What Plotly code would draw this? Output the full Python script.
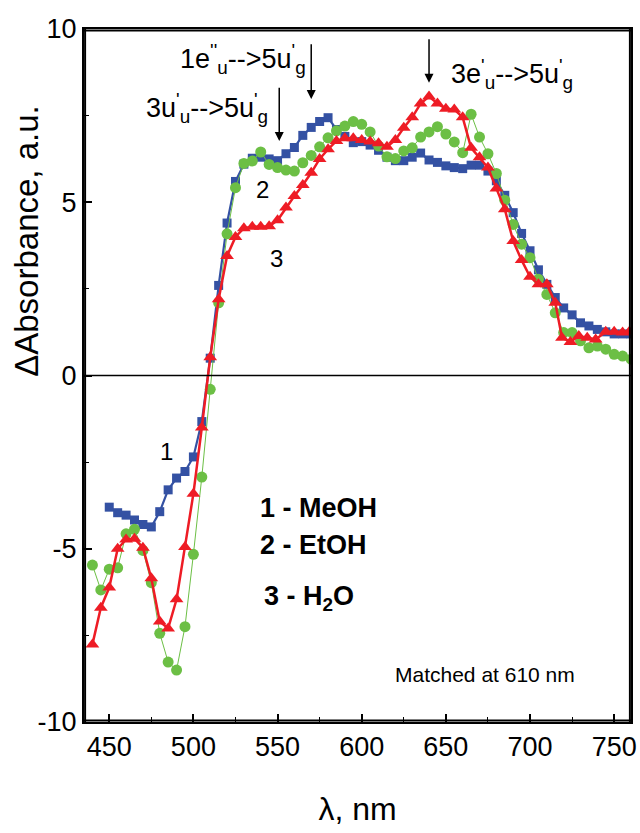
import plotly.graph_objects as go

# ---------------- data ----------------
wl_meoh = [450, 455, 460, 465, 470, 475, 480, 485, 490, 495, 500, 505, 510, 515, 520, 525,
           530, 535, 540, 545, 550, 555, 560, 565, 570, 575, 580, 585, 590, 595, 600, 605,
           610, 615, 620, 625, 630, 635, 640, 645, 650, 655, 660, 665, 670, 675, 680, 685,
           690, 695, 700, 705, 710, 715, 720, 725, 730, 735, 740, 745, 750, 755, 760]
abs_meoh = [-3.8, -3.96, -4.03, -4.17, -4.3, -4.37, -3.93, -3.3, -2.96, -2.77, -2.35, -1.33,
            0.5, 2.6, 4.4, 5.6, 6.1, 6.27, 6.3, 6.25, 6.2, 6.4, 6.58, 6.93, 7.16, 7.33, 7.44,
            7.1, 6.9, 6.72, 6.75, 6.65, 6.5, 6.3, 6.2, 6.2, 6.3, 6.42, 6.22, 6.15, 6.05, 6.0,
            5.97, 6.07, 6.07, 5.9, 5.62, 5.2, 4.7, 4.1, 3.6, 3.05, 2.63, 2.25, 1.95, 1.75,
            1.52, 1.43, 1.33, 1.26, 1.2, 1.2, 1.2]

wl_etoh = [440, 445, 450, 455, 460, 465, 470, 475, 480, 485, 490, 495, 500, 505, 510, 515,
           520, 525, 530, 535, 540, 545, 550, 555, 560, 565, 570, 575, 580, 585, 590, 595,
           600, 605, 610, 615, 620, 625, 630, 635, 640, 645, 650, 655, 660, 665, 670, 675,
           680, 685, 690, 695, 700, 705, 710, 715, 720, 725, 730, 735, 740, 745, 750, 755, 760]
abs_etoh = [-5.47, -6.19, -5.59, -5.55, -4.57, -4.44, -5.05, -5.98, -7.44, -8.27, -8.5, -7.25,
            -5.16, -2.93, -0.4, 2.1, 4.09, 5.42, 6.12, 6.19, 6.45, 6.09, 6.0, 5.93, 5.9, 6.14,
            6.35, 6.6, 6.86, 7.06, 7.2, 7.33, 7.25, 7.03, 6.62, 6.31, 6.26, 6.48, 6.57, 6.88,
            7.03, 7.18, 6.97, 6.74, 6.43, 7.54, 6.88, 6.4, 5.83, 5.06, 4.36, 3.79, 3.4, 2.78,
            2.34, 1.81, 1.24, 1.24, 1.0, 0.8, 0.85, 0.76, 0.61, 0.56, 0.47]

wl_h2o = [440, 445, 450, 455, 460, 465, 470, 475, 480, 485, 490, 495, 500, 505, 510, 515,
          520, 525, 530, 535, 540, 545, 550, 555, 560, 565, 570, 575, 580, 585, 590, 595,
          600, 605, 610, 615, 620, 625, 630, 635, 640, 645, 650, 655, 660, 665, 670, 675,
          680, 685, 690, 695, 700, 705, 710, 715, 719, 724, 729, 734, 739, 745, 750, 755, 759]
abs_h2o = [-7.76, -6.7, -6.12, -5.0, -4.73, -4.71, -4.97, -5.85, -7.1, -7.3, -6.46, -4.95,
           -3.41, -1.5, 0.53, 2.2, 3.45, 4.0, 4.25, 4.29, 4.29, 4.31, 4.48, 4.85, 5.18, 5.5,
           5.85, 6.25, 6.53, 6.77, 6.85, 6.85, 6.8, 6.75, 6.7, 6.6, 6.8, 7.15, 7.45, 7.85,
           8.05, 7.85, 7.7, 7.68, 7.45, 6.57, 6.3, 6.0, 5.4, 4.8, 3.88, 3.33, 2.85, 2.63,
           2.63, 2.1, 1.09, 0.97, 1.14, 1.09, 1.04, 1.26, 1.26, 1.24, 1.26]

x_range = [435, 760]
y_range = [-10, 10]
x_ticks = [450, 500, 550, 600, 650, 700, 750]
y_ticks = [-10, -5, 0, 5, 10]
y_ticktext = ["-10", "-5", "0", "5", "10"]

BLUE = "#3451a3"
GREEN = "#6cbf45"
RED = "#ee1c25"
FONT = "Arial, Liberation Sans, sans-serif"

fig = go.Figure()
fig.add_trace(go.Scatter(x=wl_meoh, y=abs_meoh, mode="lines+markers",
                         line=dict(color=BLUE, width=2.2),
                         marker=dict(symbol="square", size=9, color=BLUE),
                         name="MeOH"))
fig.add_trace(go.Scatter(x=wl_etoh, y=abs_etoh, mode="lines+markers",
                         line=dict(color=GREEN, width=1),
                         marker=dict(symbol="circle", size=11, color=GREEN),
                         name="EtOH"))
fig.add_trace(go.Scatter(x=wl_h2o, y=abs_h2o, mode="lines+markers",
                         line=dict(color=RED, width=2.5),
                         marker=dict(symbol="triangle-up", size=12, color=RED),
                         name="H2O"))

# zero line
fig.add_shape(type="line", xref="paper", x0=0, x1=1, yref="y", y0=0, y1=0,
              line=dict(color="black", width=1.5))
# plot frame: lines just inside the plotting area (paper fractions)
for yy in (0.002, 0.998):
    fig.add_shape(type="line", xref="paper", x0=0, x1=1, yref="paper", y0=yy, y1=yy,
                  line=dict(color="black", width=2), layer="above")
for xx in (0.002, 0.998):
    fig.add_shape(type="line", xref="paper", x0=xx, x1=xx, yref="paper", y0=0, y1=1,
                  line=dict(color="black", width=2), layer="above")

ann = []
def txt(x, y, s, size=24, bold=False, xanchor="center", xref="x", yref="y"):
    ann.append(dict(x=x, y=y, xref=xref, yref=yref, text=("<b>%s</b>" % s) if bold else s,
                    showarrow=False, xanchor=xanchor, yanchor="middle",
                    font=dict(family=FONT, size=size, color="black")))

txt(484, -2.18, "1")
txt(541, 5.38, "2")
txt(549.6, 3.39, "3")
txt(538.5, -3.81, "1 - MeOH", size=27, bold=True, xanchor="left")
txt(538.5, -4.88, "2 - EtOH", size=27, bold=True, xanchor="left")
txt(541, -6.41, "3 - H<sub>2</sub>O", size=27, bold=True, xanchor="left")
txt(673.5, -8.64, "Matched at 610 nm", size=21)

# transition labels with arrows
def arrow(x, ytip, ytop):
    ann.append(dict(x=x, y=ytip, ax=x, ay=ytop, xref="x", yref="y", axref="x", ayref="y",
                    text="", showarrow=True, arrowhead=2, arrowsize=1.2, arrowwidth=1.5,
                    arrowcolor="black"))

arrow(570, 7.98, 9.6)
arrow(551, 6.77, 8.35)
arrow(640, 8.45, 9.75)

txt(529.5, 9.13, "1e<sup>''</sup><sub>u</sub>--&gt;5u<sup>'</sup><sub>g</sub>", size=27)
txt(508, 7.72, "3u<sup>'</sup><sub>u</sub>--&gt;5u<sup>'</sup><sub>g</sub>", size=27)
txt(689.5, 8.7, "3e<sup>'</sup><sub>u</sub>--&gt;5u<sup>'</sup><sub>g</sub>", size=27)

# y axis title
ann.append(dict(x=-0.104, y=0.6945, xref="paper", yref="paper", text="\u0394Absorbance, a.u.",
                showarrow=False, textangle=-90, xanchor="center", yanchor="middle",
                font=dict(family=FONT, size=33, color="black")))

fig.update_layout(
    width=640, height=833,
    margin=dict(l=84, r=9, t=29, b=111, autoexpand=False),
    paper_bgcolor="white", plot_bgcolor="white",
    showlegend=False,
    annotations=ann,
    font=dict(family=FONT, color="black"),
    xaxis=dict(range=x_range, tickvals=x_ticks, ticks="inside", ticklen=8, tickwidth=1.5,
               tickcolor="black", showline=True, linecolor="black", linewidth=2, mirror=True,
               showgrid=False, zeroline=False, tickfont=dict(size=27, family=FONT),
               automargin=False,
               minor=dict(dtick=25, tick0=425, ticks="inside", ticklen=5, tickcolor="black",
                          tickwidth=1.2, showgrid=False),
               title=dict(text="\u03bb, nm", font=dict(size=32, family=FONT), standoff=36)),
    yaxis=dict(range=y_range, tickvals=y_ticks, ticktext=y_ticktext, ticks="inside",
               ticklen=8, tickwidth=1.5, automargin=False,
               tickcolor="black", showline=True, linecolor="black", linewidth=2, mirror=True,
               showgrid=False, zeroline=False, tickfont=dict(size=27, family=FONT),
               minor=dict(dtick=2.5, tick0=0, ticks="inside", ticklen=5, tickcolor="black",
                          tickwidth=1.2, showgrid=False)),
)

# remove the default page margin so the figure sits at the window's top-left corner
fig.write_html("out.html", config={"displayModeBar": False},
               post_script="document.body.style.margin='0';document.body.style.overflow='hidden';")
